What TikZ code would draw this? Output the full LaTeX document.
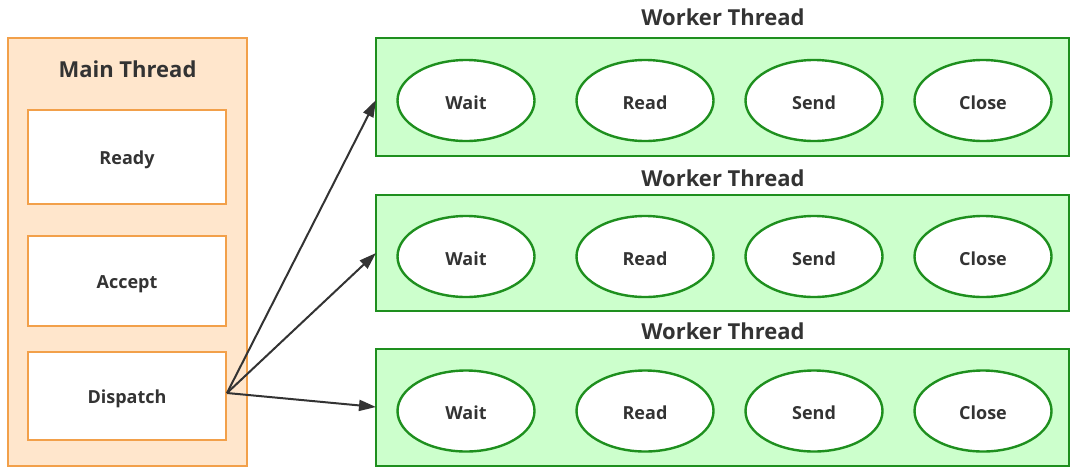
\documentclass[tikz,border=0pt]{standalone}
\usepackage{fontspec}
\setmainfont{Open Sans}
\usetikzlibrary{arrows.meta,shapes.geometric}
\definecolor{ofill}{HTML}{FFE6CC}
\definecolor{oline}{HTML}{F2A04A}
\definecolor{gfill}{HTML}{CCFFCC}
\definecolor{gline}{HTML}{1E8F1E}
\definecolor{txt}{HTML}{333333}
\tikzset{
  mainbox/.style={draw=oline, fill=ofill, line width=2.3pt},
  stepbox/.style={draw=oline, fill=white, line width=2.3pt},
  steplabel/.style={text=txt, font=\fontsize{18}{22}\selectfont\bfseries},
  workbox/.style={draw=gline, fill=gfill, line width=2.3pt},
  state/.style={draw=gline, fill=white, line width=2.4pt, ellipse, text=txt,
    font=\fontsize{18}{22}\selectfont\bfseries, minimum width=137pt, minimum height=81pt, inner sep=0pt},
  slabel/.style={text=txt, font=\fontsize{18}{22}\selectfont\bfseries},
  ttl/.style={text=txt, font=\fontsize{22}{26}\selectfont\bfseries},
  conn/.style={draw=txt, line width=2pt, -{Triangle[length=17pt,width=11pt]}}
}
\begin{document}
\begin{tikzpicture}[x=1pt,y=-1pt]
\useasboundingbox (0,0) rectangle (1078,474);
\draw[mainbox] (8,38) rectangle (247,466);
\node[ttl] (mt) at (127.5,69) {Main Thread};
\draw[stepbox] (28,110) rectangle (226,204);
\node[steplabel] (ready) at (127,160) {Ready};
\draw[stepbox] (28,236) rectangle (226,326);
\node[steplabel] (accept) at (127,284) {Accept};
\draw[stepbox] (28,352) rectangle (226,440);
\node[steplabel] (dispatch) at (127,399) {Dispatch};
\coordinate (dp) at (227,393);
\foreach \i/\top/\bot/\ty/\ay in {1/38/156/17/100, 2/195/311/178/253, 3/349/466/331/407}{
  \draw[workbox] (376,\top) rectangle (1069,\bot);
  \node[ttl] (wt\i) at (723,\ty) {Worker Thread};
  \pgfmathsetmacro{\cy}{(\top+\bot)/2+3.5}
  \node[state] (wait\i) at (466,\cy) {};
  \node[state] (read\i) at (645,\cy) {};
  \node[state] (send\i) at (814,\cy) {};
  \node[state] (close\i) at (983,\cy) {};
  \node[slabel] at ([yshift=-2pt]wait\i.center) {Wait};
  \node[slabel] at ([yshift=-2pt]read\i.center) {Read};
  \node[slabel] at ([yshift=-2pt]send\i.center) {Send};
  \node[slabel] at ([yshift=-2pt]close\i.center) {Close};
  \coordinate (in\i) at (376,\ay);
  \draw[conn] (dp) -- (in\i);
}
\end{tikzpicture}
\end{document}
